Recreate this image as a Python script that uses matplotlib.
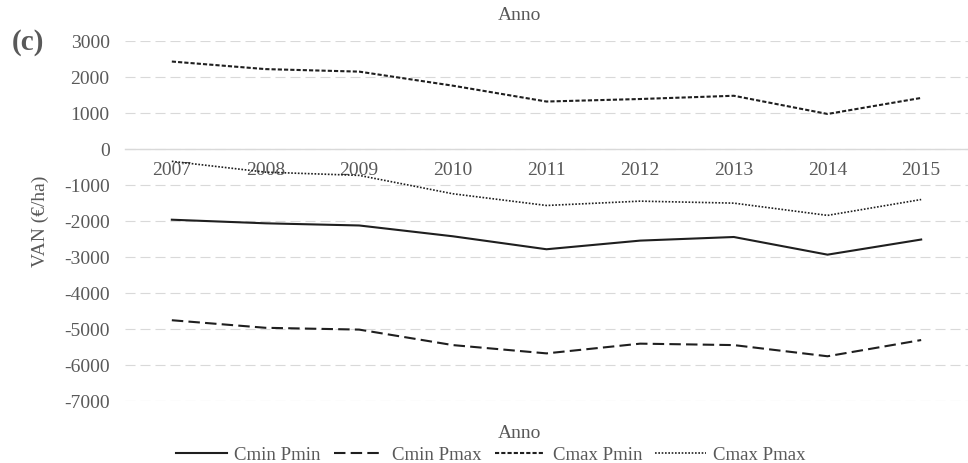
import matplotlib
matplotlib.use("Agg")
import matplotlib.pyplot as plt

years = ["2007", "2008", "2009", "2010", "2011", "2012", "2013", "2014", "2015"]
cmin_pmin = [-1960, -2060, -2120, -2420, -2780, -2540, -2440, -2930, -2510]
cmin_pmax = [-4750, -4960, -5010, -5440, -5670, -5400, -5440, -5750, -5300]
cmax_pmin = [2430, 2220, 2150, 1760, 1320, 1390, 1480, 975, 1420]
cmax_pmax = [-340, -640, -730, -1240, -1565, -1445, -1500, -1840, -1400]
series_names = ["Cmin Pmin", "Cmin Pmax", "Cmax Pmin", "Cmax Pmax"]
y_ticks = [3000, 2000, 1000, 0, -1000, -2000, -3000, -4000, -5000, -6000, -7000]

text_color = "#595959"
line_color = "#1f1f1f"
grid_color = "#d9d9d9"
plt.rcParams["font.family"] = ["Liberation Serif", "DejaVu Serif"]

fig = plt.figure(figsize=(9.68, 4.63), dpi=100)
ax = fig.add_axes([125 / 968, 1 - 401.3 / 463, 1 - 125 / 968, (401.3 - 41) / 463])

x = list(range(len(years)))
styles = [
    dict(linestyle="-", linewidth=1.5),
    dict(linestyle=(0, (5.5, 2.5)), linewidth=1.5),
    dict(linestyle=(0, (2, 1)), linewidth=1.5),
    dict(linestyle=(0, (1, 1)), linewidth=1.2),
]
for vals, name, st in zip([cmin_pmin, cmin_pmax, cmax_pmin, cmax_pmax], series_names, styles):
    ax.plot(x, vals, color=line_color, label=name, **st)

ax.set_xlim(-0.5, len(years) - 0.5)
ax.set_ylim(min(y_ticks), max(y_ticks))
ax.set_yticks(y_ticks)
ax.set_yticklabels([str(v) for v in y_ticks])
ax.set_xticks(x)
ax.set_xticklabels(years)

ax.grid(axis="y", color=grid_color, linestyle=(0, (9, 4.5)), linewidth=0.8)
ax.set_axisbelow(True)
for s in ["top", "right", "left"]:
    ax.spines[s].set_visible(False)
ax.spines["bottom"].set_position(("data", 0))
ax.spines["bottom"].set_color(grid_color)
ax.spines["bottom"].set_linewidth(1.0)

ax.tick_params(axis="y", length=0, pad=11, labelsize=14, labelcolor=text_color)
ax.tick_params(axis="x", length=0, pad=9, labelsize=14, labelcolor=text_color)

ax.set_ylabel("VAN (€/ha)", fontsize=14, color=text_color, labelpad=11)

fig.text(519 / 968, 1 - 15 / 463, "Anno", ha="center", va="center", fontsize=14, color=text_color)
fig.text(520 / 968, 1 - 433 / 463, "Anno", ha="center", va="center", fontsize=14, color=text_color)
fig.text(12 / 968, 1 - 43 / 463, "(c)", ha="left", va="center", fontsize=21,
         fontweight="bold", color=text_color)

leg = fig.legend(loc="center", bbox_to_anchor=(491 / 968, 1 - 455 / 463), ncol=4, frameon=False,
                 fontsize=13.5, handlelength=2.7, columnspacing=0.7, handletextpad=0.4,
                 borderpad=0.1, labelcolor=text_color)

fig.savefig("out.png", dpi=100, facecolor="white")
